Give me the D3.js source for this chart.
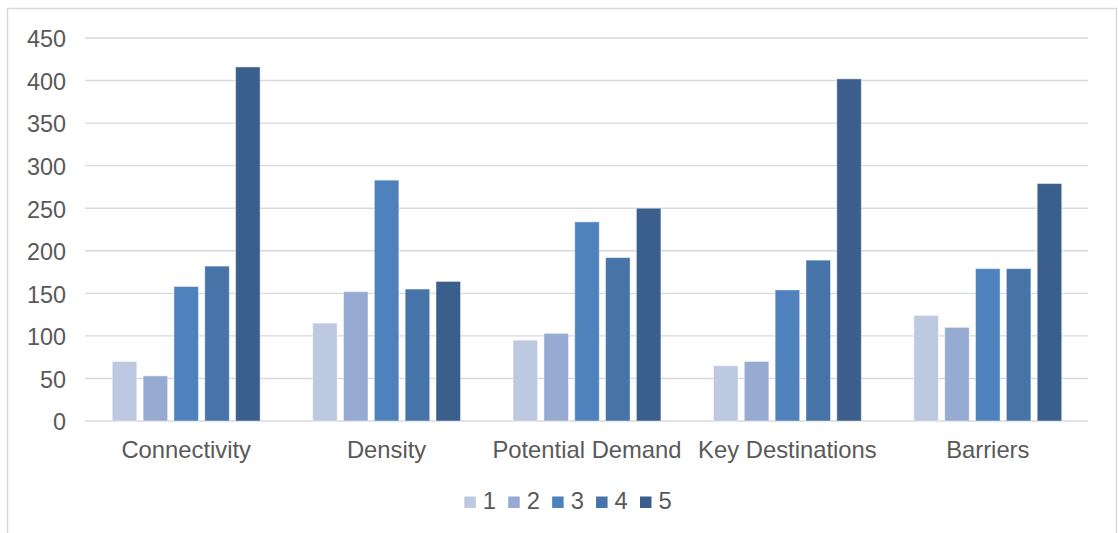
<!DOCTYPE html>
<html>
<head>
<meta charset="utf-8">
<script src="https://cdn.jsdelivr.net/npm/d3@7"></script>
<style>
  html, body { margin: 0; padding: 0; background: #ffffff; }
  svg { display: block; }
  text { font-family: "Liberation Sans", Arial, sans-serif; fill: #595959; }
</style>
</head>
<body>
<svg id="chart" width="1118" height="533"></svg>
<script>
// Chart data
const categories = ["Connectivity", "Density", "Potential Demand", "Key Destinations", "Barriers"];
const seriesNames = ["1", "2", "3", "4", "5"];
const series1 = [70, 115, 95, 65, 124];
const series2 = [53, 152, 103, 70, 110];
const series3 = [158, 283, 234, 154, 179];
const series4 = [182, 155, 192, 189, 179];
const series5 = [416, 164, 250, 402, 279];
const yTicks = [0, 50, 100, 150, 200, 250, 300, 350, 400, 450];
const colors = ["#bcc9e1", "#96aad2", "#4f81bd", "#4674a8", "#3b5f8d"];

const seriesValues = [series1, series2, series3, series4, series5];
const rows = categories.map((c, i) => ({
  category: c,
  values: seriesNames.map((s, j) => ({ key: s, value: seriesValues[j][i], idx: j }))
}));

const svg = d3.select("#chart");

// Outer frame of the chart area
svg.append("rect")
  .attr("x", 7.5).attr("y", 8.5)
  .attr("width", 1109).attr("height", 560)
  .attr("fill", "#ffffff")
  .attr("stroke", "#d9d9d9")
  .attr("stroke-width", 1.5);

const plot = { left: 86, right: 1088, top: 38, bottom: 421 };

const y = d3.scaleLinear().domain([0, 450]).range([plot.bottom, plot.top]);
const x0 = d3.scaleBand().domain(categories).range([plot.left, plot.right]).padding(0);
const x1 = d3.scaleBand().domain(seriesNames).range([0, x0.bandwidth()])
  .paddingInner(0).paddingOuter(0.75);
const barGap = 6.3;

// Horizontal gridlines
svg.append("g")
  .selectAll("line")
  .data(yTicks)
  .join("line")
  .attr("x1", plot.left - 1).attr("x2", plot.right)
  .attr("y1", d => y(d)).attr("y2", d => y(d))
  .attr("stroke", "#d9d9d9")
  .attr("stroke-width", 1.4);

// Y axis labels
svg.append("g")
  .selectAll("text")
  .data(yTicks)
  .join("text")
  .attr("x", 66)
  .attr("y", d => y(d))
  .attr("dy", "0.4em")
  .attr("text-anchor", "end")
  .attr("font-size", 23.4)
  .text(d => d);

// Bars
const groups = svg.append("g")
  .selectAll("g")
  .data(rows)
  .join("g")
  .attr("transform", d => `translate(${x0(d.category)},0)`);

groups.selectAll("rect")
  .data(d => d.values)
  .join("rect")
  .attr("x", d => x1(d.key) + barGap / 2)
  .attr("width", x1.bandwidth() - barGap)
  .attr("y", d => y(d.value))
  .attr("height", d => y(0) - y(d.value))
  .attr("fill", d => colors[d.idx])
  .attr("stroke", "#ffffff")
  .attr("stroke-opacity", 0.45)
  .attr("stroke-width", 1);

// Category labels
svg.append("g")
  .selectAll("text")
  .data(categories)
  .join("text")
  .attr("x", d => x0(d) + x0.bandwidth() / 2)
  .attr("y", 458)
  .attr("text-anchor", "middle")
  .attr("font-size", 23.8)
  .text(d => d);

// Legend
const legendX = d3.scalePoint().domain(seriesNames).range([464.3, 640]);
const legend = svg.append("g")
  .selectAll("g")
  .data(seriesNames)
  .join("g")
  .attr("transform", d => `translate(${legendX(d)},0)`);

legend.append("rect")
  .attr("x", 0).attr("y", 496.5)
  .attr("width", 11.5).attr("height", 11.5)
  .attr("fill", (d, i) => colors[i]);

legend.append("text")
  .attr("x", 18.5)
  .attr("y", 509)
  .attr("font-size", 23.8)
  .text(d => d);
</script>
</body>
</html>
